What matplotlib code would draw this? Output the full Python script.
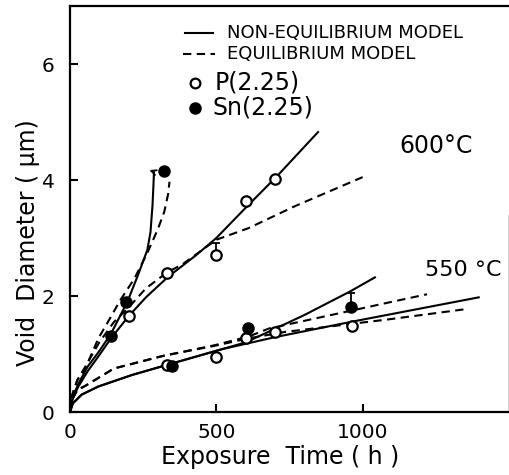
import numpy as np
import matplotlib
matplotlib.use("Agg")
import matplotlib.pyplot as plt

# ---------------- data ----------------
# measured points
p600_t = [200, 330, 500, 600, 700]
p600_d = [1.65, 2.40, 2.70, 3.64, 4.02]
sn600_t = [140, 190, 322]
sn600_d = [1.31, 1.90, 4.16]
p550_t = [330, 500, 603, 700, 965]
p550_d = [0.81, 0.95, 1.27, 1.38, 1.49]
sn550_t = [350, 607, 960]
sn550_d = [0.79, 1.44, 1.81]

# upper error bars (from point up to the model curve)
err_t = [500, 960]
err_lo = [2.70, 1.81]
err_hi = [2.92, 2.05]

# model curves, 600 C
p600_ne_t = [0, 10, 30, 60, 100, 140, 200, 260, 335, 430, 500, 600, 710, 850]
p600_ne_d = [0, 0.25, 0.45, 0.70, 0.98, 1.27, 1.65, 1.98, 2.33, 2.70, 3.00, 3.52, 4.08, 4.84]
sn600_ne_t = [0, 10, 30, 60, 100, 140, 196, 230, 264, 275, 282, 285, 287]
sn600_ne_d = [0, 0.27, 0.50, 0.78, 1.05, 1.35, 1.90, 2.33, 2.79, 3.10, 3.57, 3.90, 4.14]
p600_eq_t = [0, 8, 25, 52, 100, 150, 200, 259, 330, 385, 500, 610, 769, 1000]
p600_eq_d = [0, 0.30, 0.55, 0.78, 1.20, 1.55, 1.80, 2.13, 2.40, 2.55, 2.97, 3.17, 3.55, 4.05]
sn600_eq_t = [0, 8, 25, 52, 98, 135, 172, 220, 264, 300, 322, 335, 340]
sn600_eq_d = [0, 0.30, 0.55, 0.75, 1.28, 1.60, 1.93, 2.30, 2.74, 3.15, 3.45, 3.75, 3.97]

# model curves, 550 C
p550_ne_t = [0, 10, 40, 97, 213, 330, 517, 700, 966, 1400]
p550_ne_d = [0, 0.15, 0.30, 0.44, 0.64, 0.81, 1.08, 1.29, 1.56, 1.98]
sn550_ne_t = [0, 10, 40, 97, 213, 330, 517, 600, 690, 800, 900, 954, 1045]
sn550_ne_d = [0, 0.15, 0.30, 0.44, 0.64, 0.81, 1.08, 1.20, 1.41, 1.67, 1.93, 2.07, 2.33]
p550_eq_t = [0, 8, 25, 52, 150, 320, 493, 610, 734, 1093, 1362]
p550_eq_d = [0, 0.22, 0.38, 0.45, 0.75, 0.97, 1.14, 1.27, 1.38, 1.60, 1.78]
sn550_eq_t = [0, 8, 25, 52, 150, 320, 493, 610, 680, 1000, 1100, 1220]
sn550_eq_d = [0, 0.22, 0.38, 0.45, 0.75, 0.97, 1.15, 1.30, 1.44, 1.79, 1.90, 2.03]

x_ticks = [0, 500, 1000]
y_ticks = [0, 2, 4, 6]

# ---------------- figure ----------------
plt.rcParams['font.family'] = ['DejaVu Sans']
fig = plt.figure(figsize=(5.10, 4.75), dpi=100)
ax = fig.add_axes([70 / 510, 63 / 475, 439 / 510, 406 / 475])
ax.set_xlim(0, 1500)
ax.set_ylim(0, 7)

LW = 1.5
DASH = (4, 2.6)

for t, d in [(p600_ne_t, p600_ne_d), (sn600_ne_t, sn600_ne_d),
             (p550_ne_t, p550_ne_d), (sn550_ne_t, sn550_ne_d)]:
    ax.plot(t, d, color='k', lw=LW, solid_capstyle='butt')
for t, d in [(p600_eq_t, p600_eq_d), (sn600_eq_t, sn600_eq_d),
             (p550_eq_t, p550_eq_d), (sn550_eq_t, sn550_eq_d)]:
    ax.plot(t, d, color='k', lw=LW, dashes=DASH)

# small hook at the top of the Sn 600C curve
ax.annotate('', xy=(271, sn600_ne_d[-1] + 0.03), xytext=(sn600_ne_t[-1], sn600_ne_d[-1]),
            arrowprops=dict(arrowstyle='->', lw=1.3, color='k', shrinkA=0, shrinkB=0,
                            mutation_scale=9))

# error bars
ax.errorbar(err_t, err_lo, yerr=[np.zeros(len(err_t)), np.array(err_hi) - np.array(err_lo)],
            fmt='none', ecolor='k', elinewidth=1.3, capsize=3, capthick=1.3)

# data points
for t, d in [(p600_t, p600_d), (p550_t, p550_d)]:
    ax.plot(t, d, 'o', ms=7.5, mfc='white', mec='k', mew=1.6, zorder=5)
for t, d in [(sn600_t, sn600_d), (sn550_t, sn550_d)]:
    ax.plot(t, d, 'o', ms=8, mfc='k', mec='k', zorder=5)

# legend (manual)
ax.plot([393, 489], [6.54, 6.54], color='k', lw=LW)
ax.text(536, 6.54, 'NON-EQUILIBRIUM MODEL', fontsize=13, va='center', ha='left')
ax.plot([387, 496], [6.18, 6.18], color='k', lw=LW, dashes=DASH)
ax.text(536, 6.18, 'EQUILIBRIUM MODEL', fontsize=13, va='center', ha='left')
ax.plot([427], [5.68], 'o', ms=7, mfc='white', mec='k', mew=1.6)
ax.text(495, 5.68, 'P(2.25)', fontsize=17, va='center', ha='left')
ax.plot([427], [5.25], 'o', ms=8, mfc='k', mec='k')
ax.text(488, 5.25, 'Sn(2.25)', fontsize=17, va='center', ha='left')

ax.text(1127, 4.59, '600°C', fontsize=17, va='center', ha='left')
ax.text(1213, 2.44, '550 °C', fontsize=16, va='center', ha='left')

# axes styling
ax.set_xticks(x_ticks)
ax.set_yticks(y_ticks)
ax.tick_params(direction='in', length=6, width=1.5, labelsize=14.5)
ax.tick_params(axis='x', pad=8)
ax.tick_params(axis='y', pad=11)
for s in ['left', 'bottom', 'top']:
    ax.spines[s].set_linewidth(1.6)
ax.spines['right'].set_linewidth(1.0)
ax.spines['right'].set_bounds(0, 3.4)

fig.text(280 / 510, 1 - 457 / 475, 'Exposure  Time ( h )', fontsize=17, ha='center', va='center')
fig.text(28 / 510, 1 - 243 / 475, 'Void  Diameter ( μm)', fontsize=17, ha='center', va='center',
         rotation=90)

fig.savefig('out.png', dpi=100)
